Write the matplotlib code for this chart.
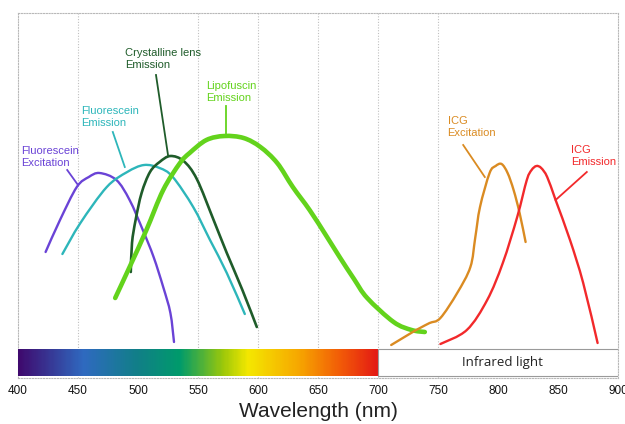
import matplotlib
matplotlib.use("Agg")
import matplotlib.pyplot as plt
import numpy as np
from matplotlib.colors import LinearSegmentedColormap
from matplotlib.patches import Rectangle, PathPatch
from matplotlib.path import Path

plt.rcParams['font.family'] = ['Liberation Sans', 'DejaVu Sans']

# Wavelength (nm) and relative intensity (a.u.)
fl_exc_x = [423, 435, 449, 459, 468, 482, 493, 504, 513, 521, 527, 530]
fl_exc_y = [126, 158, 191, 201, 205, 198, 178, 148, 121, 91, 65, 36]

fl_em_x = [437, 452, 474, 491, 505, 518, 529, 546, 560, 574, 589]
fl_em_y = [124, 155, 191, 206, 213, 210, 201, 171, 138, 105, 64]

lens_x = [494, 495, 498, 503, 510, 518, 527, 538, 549, 563, 574, 587, 599]
lens_y = [106, 135, 158, 185, 206, 216, 222, 217, 199, 158, 125, 88, 51]

lipo_x = [481, 493, 507, 521, 535, 543, 557, 572, 588, 602, 616, 629, 643, 657, 668, 680, 691, 713, 728, 739]
lipo_y = [80, 111, 148, 188, 215, 225, 238, 242, 240, 231, 215, 191, 168, 142, 121, 99, 80, 56, 48, 46]

icg_exc_x = [711, 729, 735, 743, 752, 766, 777, 781, 785, 793, 798, 803, 808, 813, 818, 823]
icg_exc_y = [33, 46, 50, 55, 60, 85, 111, 140, 171, 205, 212, 214, 205, 188, 165, 136]

icg_em_x = [752, 774, 791, 804, 816, 824, 828, 832, 836, 841, 848, 860, 871, 883]
icg_em_y = [34, 48, 78, 115, 161, 198, 208, 212, 210, 201, 178, 138, 95, 35]

xticks = [400, 450, 500, 550, 600, 650, 700, 750, 800, 850, 900]
grid_x = [450, 550, 600, 650, 700, 750]

series = [
    (fl_exc_x, fl_exc_y, '#6A43D6', 1.7, "Fluorescein\nExcitation", (403, 232), (441, 208), (450, 193)),
    (fl_em_x, fl_em_y, '#2DB6BA', 1.7, "Fluorescein\nEmission", (453, 272), (479, 246), (489, 211)),
    (lens_x, lens_y, '#1F5C2A', 1.9, "Crystalline lens\nEmission", (489, 330), (515, 303), (525, 223)),
    (lipo_x, lipo_y, '#63D31C', 3.3, "Lipofuscin\nEmission", (557, 297), (573, 272), (573, 243)),
    (icg_exc_x, icg_exc_y, '#DA8B22', 1.7, "ICG\nExcitation", (758, 262), (771, 233), (789, 201)),
    (icg_em_x, icg_em_y, '#F2292B', 1.7, "ICG\nEmission", (861, 233), (874, 206), (848, 178)),
]


def smooth_path(x, y):
    p = np.column_stack([x, y]).astype(float)
    ext = np.vstack([p[0], p, p[-1]])
    verts = [p[0]]
    codes = [Path.MOVETO]
    for i in range(1, len(ext) - 2):
        p0, p1, p2, p3 = ext[i - 1], ext[i], ext[i + 1], ext[i + 2]
        c1 = p1 + (p2 - p0) / 6.0
        c2 = p2 - (p3 - p1) / 6.0
        verts += [c1, c2, p2]
        codes += [Path.CURVE4] * 3
    return Path(verts, codes)


fig = plt.figure(figsize=(6.25, 4.24), dpi=100)
ax = fig.add_axes([0.0288, 0.1085, 0.96, 0.8608])
ax.set_xlim(400, 900)
ax.set_ylim(0, 365)

for gx in grid_x:
    ax.axvline(gx, color='#c0c0c0', lw=0.8, ls=(0, (1, 1.5)), zorder=0)

for x, y, c, lw, label, tpos, l0, l1 in series:
    ax.add_patch(PathPatch(smooth_path(x, y), facecolor='none', edgecolor=c, lw=lw,
                           capstyle='round', joinstyle='round', zorder=3))
    ax.text(tpos[0], tpos[1], label, color=c, fontsize=8, ha='left', va='top', linespacing=1.3)
    ax.plot([l0[0], l1[0]], [l0[1], l1[1]], color=c, lw=1.3, zorder=3)

# spectrum bar
cmap = LinearSegmentedColormap.from_list('spec', [
    (0.0, '#3f0a6e'), (0.18, '#2f6ac0'), (0.33, '#117f88'), (0.45, '#009b6b'),
    (0.57, '#9cc80a'), (0.64, '#f4e800'), (0.78, '#f7a800'), (0.9, '#f25a08'), (1.0, '#e41b14')])
grad = np.linspace(0, 1, 300).reshape(1, -1)
ax.imshow(grad, cmap=cmap, aspect='auto', extent=[400, 700, 2, 29], zorder=4)
ax.add_patch(Rectangle((700, 2), 200, 27, facecolor='white', edgecolor='#9a9a9a', lw=0.8, zorder=4))
ax.text(804, 15.5, "Infrared light", ha='center', va='center', fontsize=9.5,
        family=['Open Sans', 'DejaVu Sans'], color='#222222', zorder=5)

ax.set_xticks(xticks)
ax.set_xticklabels([str(t) for t in xticks], fontsize=8.5, color='#111111')
ax.tick_params(axis='x', length=0, pad=5)
ax.set_yticks([])
for s in ax.spines.values():
    s.set_color('#b8b8b8')
    s.set_linestyle((0, (1, 1.5)))
    s.set_linewidth(0.8)

ax.set_xlabel("Wavelength (nm)", fontsize=15, color='#222222', labelpad=4)

fig.savefig("out.png", dpi=100)
